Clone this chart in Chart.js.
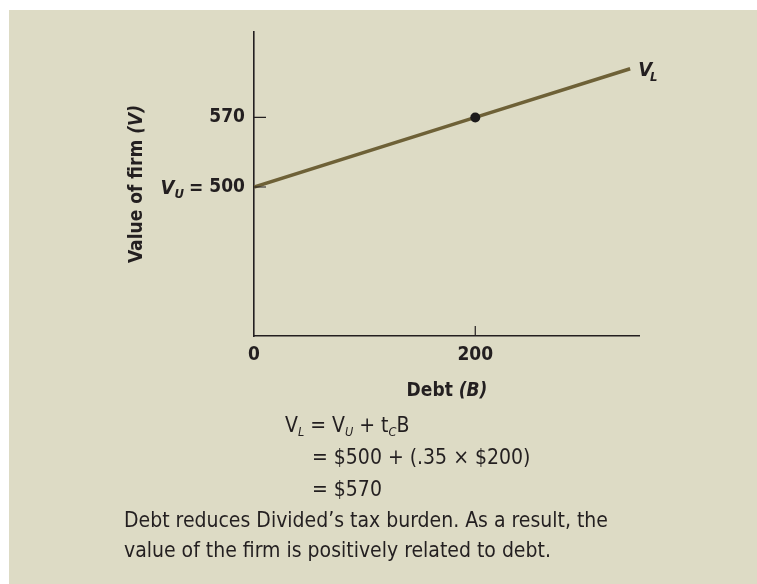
<!DOCTYPE html>
<html>
<head>
<meta charset="utf-8">
<script src="https://cdn.jsdelivr.net/npm/chart.js@4.4.0/dist/chart.umd.min.js"></script>
<style>
    html, body { margin: 0; padding: 0; background: #fff; }
    body { width: 757px; height: 584px; overflow: hidden; position: relative;
           font-family: "Liberation Sans Narrow", "DejaVu Sans Condensed", sans-serif; color: #231f20; }
    #panel { position: absolute; left: 9px; top: 10px; right: 0; bottom: 0; background: #dddbc5; }
    #chart { position: absolute; left: 0; top: 0; }
    .txt { position: absolute; white-space: nowrap; font-size: 21px; line-height: 21px; }
    .txt sub { font-size: 0.6em; font-style: italic; vertical-align: -0.35em; line-height: 0; }
</style>
</head>
<body>
<div id="panel"></div>
<canvas id="chart" width="757" height="584"></canvas>

<div class="txt" style="left:285px; top:415px;">V<sub>L</sub> = V<sub>U</sub> + t<sub>C</sub>B</div>
<div class="txt" style="left:312px; top:447px;">= $500 + (.35 × $200)</div>
<div class="txt" style="left:312px; top:479px;">= $570</div>
<div class="txt" style="left:124px; top:510px;">Debt reduces Divided’s tax burden. As a result, the</div>
<div class="txt" style="left:124px; top:540px;">value of the firm is positively related to debt.</div>

<script>
// data
var debt = [0, 200, 340];
var firmValue = [500, 570, 619];
var markedDebt = [200];
var xTicks = [0, 200];
var yTicks = [500, 570];

var fontFam = '"Liberation Sans Narrow", "DejaVu Sans Condensed", sans-serif';
var ink = '#231f20';

// inside tick marks, V_U prefix, V_L label and axis titles
var labelsPlugin = {
    id: 'labels',
    afterDraw: function (chart) {
        var ctx = chart.ctx, xs = chart.scales.x, ys = chart.scales.y, a = chart.chartArea;
        ctx.save();
        ctx.strokeStyle = ink;
        ctx.lineWidth = 1.2;
        ctx.beginPath();
        yTicks.forEach(function (v) {
            var py = ys.getPixelForValue(v);
            ctx.moveTo(a.left, py);
            ctx.lineTo(a.left + 12, py);
        });
        xTicks.forEach(function (v) {
            if (v === 0) return;
            var px = xs.getPixelForValue(v);
            ctx.moveTo(px, a.bottom);
            ctx.lineTo(px, a.bottom - 10);
        });
        ctx.stroke();

        ctx.fillStyle = ink;
        ctx.textBaseline = 'alphabetic';

        // "V_U =" in front of the 500 tick
        ctx.font = 'bold 19px ' + fontFam;
        var w500 = ctx.measureText('500').width;
        var py500 = ys.getPixelForValue(500) + 7;
        var xr = a.left - 9 - w500 - 6;
        ctx.textAlign = 'right';
        ctx.fillText('=', xr, py500);
        xr -= ctx.measureText('=').width + 5;
        ctx.font = 'italic bold 13px ' + fontFam;
        ctx.fillText('U', xr, py500 + 4);
        xr -= ctx.measureText('U').width;
        ctx.font = 'italic bold 20px ' + fontFam;
        ctx.fillText('V', xr, py500);

        // V_L at the end of the line
        var last = debt.length - 1;
        var ex = xs.getPixelForValue(debt[last]) + 8;
        var ey = ys.getPixelForValue(firmValue[last]) + 7;
        ctx.textAlign = 'left';
        ctx.fillText('V', ex, ey);
        var wv = ctx.measureText('V').width;
        ctx.font = 'italic bold 13px ' + fontFam;
        ctx.fillText('L', ex + wv - 2, ey + 5);

        // x title
        ctx.font = 'bold 19px ' + fontFam;
        var t1 = 'Debt ', t2 = '(B)';
        var w1 = ctx.measureText(t1).width;
        ctx.font = 'italic bold 19px ' + fontFam;
        var w2 = ctx.measureText(t2).width;
        var sx = 447 - (w1 + w2) / 2;
        ctx.font = 'bold 19px ' + fontFam;
        ctx.fillText(t1, sx, 396);
        ctx.font = 'italic bold 19px ' + fontFam;
        ctx.fillText(t2, sx + w1, 396);

        // y title
        ctx.translate(142, 184);
        ctx.rotate(-Math.PI / 2);
        t1 = 'Value of firm ';
        t2 = '(V)';
        ctx.font = 'bold 19px ' + fontFam;
        w1 = ctx.measureText(t1).width;
        ctx.font = 'italic bold 19px ' + fontFam;
        w2 = ctx.measureText(t2).width;
        sx = -(w1 + w2) / 2;
        ctx.font = 'bold 19px ' + fontFam;
        ctx.fillText(t1, sx, 0);
        ctx.font = 'italic bold 19px ' + fontFam;
        ctx.fillText(t2, sx + w1, 0);
        ctx.restore();
    }
};

new Chart(document.getElementById('chart'), {
    type: 'line',
    data: {
        datasets: [{
            data: debt.map(function (b, i) { return { x: b, y: firmValue[i] }; }),
            borderColor: '#6e6137',
            borderWidth: 3.5,
            tension: 0,
            pointRadius: function (c) { return markedDebt.indexOf(debt[c.dataIndex]) >= 0 ? 5 : 0; },
            pointBackgroundColor: '#1c1a1b',
            pointBorderWidth: 0
        }]
    },
    options: {
        responsive: false,
        animation: false,
        layout: { padding: { top: 32, right: 118, bottom: 0, left: 0 } },
        plugins: { legend: { display: false }, tooltip: { enabled: false } },
        scales: {
            x: {
                type: 'linear',
                min: 0,
                max: 348,
                afterBuildTicks: function (s) { s.ticks = xTicks.map(function (v) { return { value: v }; }); },
                afterFit: function (s) { s.height = 248; },
                grid: { display: false, drawTicks: false },
                border: { color: ink, width: 1.6 },
                ticks: { padding: 8, color: ink, font: { family: fontFam, size: 19, weight: 'bold' } }
            },
            y: {
                type: 'linear',
                min: 350,
                max: 656,
                afterBuildTicks: function (s) { s.ticks = yTicks.map(function (v) { return { value: v }; }); },
                afterFit: function (s) { s.width = 254; },
                grid: { display: false, drawTicks: false },
                border: { color: ink, width: 1.6 },
                ticks: { padding: 9, color: ink, font: { family: fontFam, size: 19, weight: 'bold' } }
            }
        }
    },
    plugins: [labelsPlugin]
});
</script>
</body>
</html>
